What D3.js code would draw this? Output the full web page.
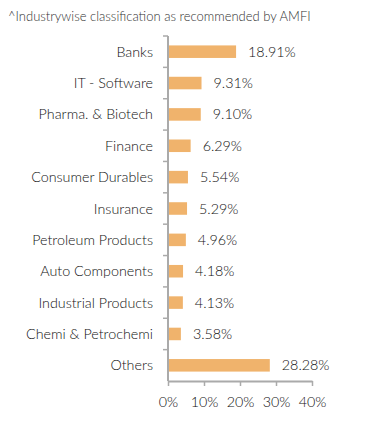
<!DOCTYPE html>
<html><head><meta charset="utf-8">
<script src="https://cdn.jsdelivr.net/npm/d3@7"></script>
<style>
body{margin:0;background:#fff;}
svg{display:block;font-family:Lato,"Open Sans",sans-serif;font-weight:300;}
</style></head>
<body>
<svg id="c" width="391" height="434"></svg>
<script>
const categories = ["Banks","IT - Software","Pharma. & Biotech","Finance","Consumer Durables","Insurance","Petroleum Products","Auto Components","Industrial Products","Chemi & Petrochemi","Others"];
const values = [18.91,9.31,9.10,6.29,5.54,5.29,4.96,4.18,4.13,3.58,28.28];
const xTicks = [0,10,20,30,40];
const note = "^Industrywise classification as recommended by AMFI";

(function(){
const svg = d3.select("#c");
const mL = 168, mR = 312, mT = 36, mB = 381;
const x = d3.scaleLinear().domain([0,40]).range([mL,mR]);
const y = d3.scaleBand().domain(categories).range([mT,mB]).paddingInner(0.6).paddingOuter(0.3);

svg.append("text").attr("x",8).attr("y",21).attr("font-size",13).attr("fill","#333").text(note);

svg.append("g").selectAll("rect").data(categories).join("rect")
  .attr("x",x(0)).attr("y",d=>y(d)).attr("height",y.bandwidth())
  .attr("width",(d,i)=>x(values[i])-x(0)).attr("fill","#F0B36C");

svg.append("g").selectAll("text").data(categories).join("text")
  .attr("x",(d,i)=>x(values[i])+12).attr("y",d=>y(d)+y.bandwidth()/2)
  .attr("dy","0.35em").attr("font-size",14.3).attr("fill","#111")
  .text((d,i)=>values[i].toFixed(2)+"%");

const yg = svg.append("g");
yg.append("line").attr("x1",mL).attr("x2",mL).attr("y1",mT).attr("y2",mB).attr("stroke","#aaa").attr("stroke-width",2);
const step = (mB-mT)/categories.length;
d3.range(categories.length).forEach(i=>{
  yg.append("line").attr("x1",mL-5).attr("x2",mL).attr("y1",mT+i*step).attr("y2",mT+i*step).attr("stroke","#aaa").attr("stroke-width",1.5);
});
yg.selectAll("text").data(categories).join("text")
  .attr("x",153).attr("y",d=>y(d)+y.bandwidth()/2).attr("dy","0.35em")
  .attr("text-anchor","end").attr("font-size",14.3).attr("fill","#111").text(d=>d);

const xg = svg.append("g").attr("transform",`translate(0,${mB})`);
const xa = d3.axisBottom(x).tickValues(xTicks).tickFormat(d=>d+"%").tickSize(5).tickSizeOuter(0);
xg.call(xa);
xg.select(".domain").attr("stroke","#aaa").attr("stroke-width",2);
xg.selectAll(".tick line").attr("stroke","#aaa").attr("stroke-width",1.5);
xg.selectAll(".tick text").attr("font-size",14.3).attr("fill","#111").attr("font-family","Lato").attr("font-weight",300).attr("dy","0").attr("y",26);
})();
</script>
</body></html>
